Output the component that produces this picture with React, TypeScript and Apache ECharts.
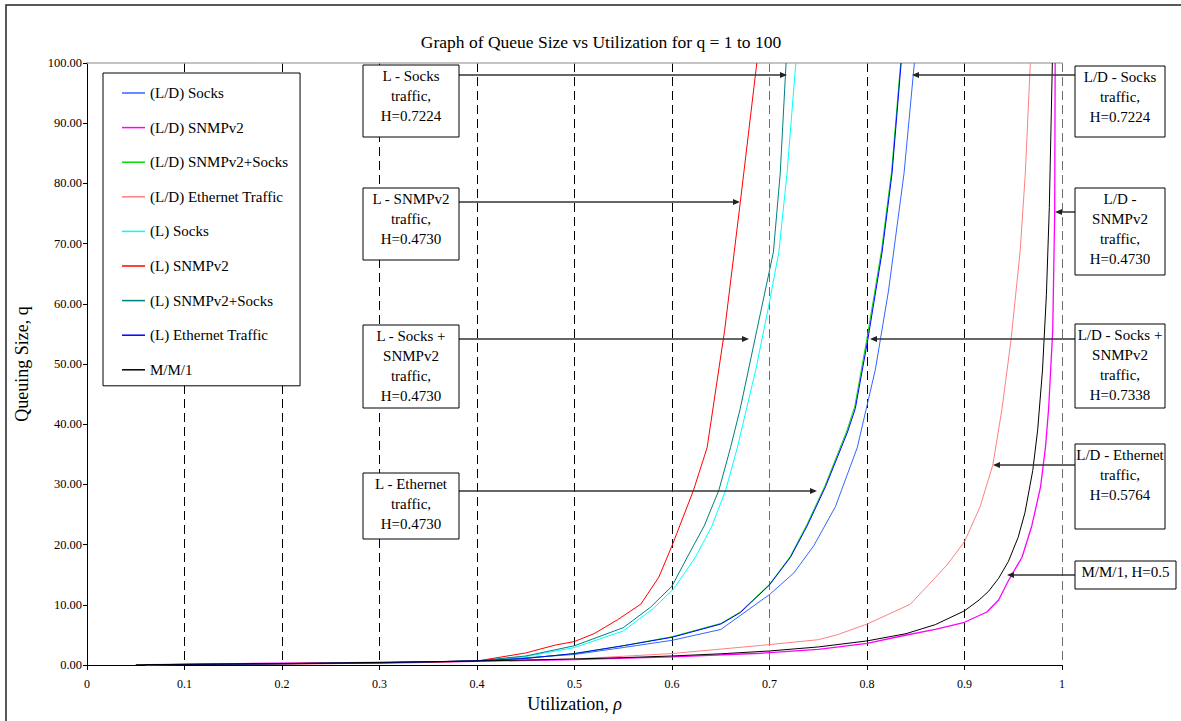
import React, { useEffect, useRef } from "react";
import * as echarts from "echarts";

const FONT = "'Liberation Serif', 'Times New Roman', serif";

// Tick labels
const xTickLabels = ["0", "0.1", "0.2", "0.3", "0.4", "0.5", "0.6", "0.7", "0.8", "0.9", "1"];

// Series names & colors
const seriesNames = [
  "(L/D) Socks",
  "(L/D) SNMPv2",
  "(L/D) SNMPv2+Socks",
  "(L/D) Ethernet Traffic",
  "(L) Socks",
  "(L) SNMPv2",
  "(L) SNMPv2+Socks",
  "(L) Ethernet Traffic",
  "M/M/1",
];
const seriesColors = ["#3366FF", "#FF00FF", "#00E000", "#FF8080", "#00FFFF", "#FF0000", "#008080", "#0000FF", "#000000"];

// [utilization, queue size]
const ldSocks = [[0.06, 0.05], [0.1, 0.1], [0.2, 0.22], [0.3, 0.36], [0.4, 0.65], [0.5, 1.75], [0.55, 2.9], [0.6, 4.1], [0.65, 5.9], [0.7, 11.7], [0.725, 15.3], [0.7454, 19.8], [0.7676, 26.3], [0.79, 36.1], [0.8086, 49.1], [0.822, 62.1], [0.838, 81.7], [0.8486, 100]];
const ldSnmp = [[0.06, 0.05], [0.1, 0.12], [0.2, 0.3], [0.3, 0.45], [0.35, 0.5], [0.4, 0.62], [0.5, 0.9], [0.6, 1.35], [0.691, 1.95], [0.75, 2.6], [0.8, 3.6], [0.838, 4.9], [0.87, 5.9], [0.9, 7.1], [0.923, 8.8], [0.935, 10.8], [0.945, 14], [0.959, 17.9], [0.969, 23.1], [0.978, 29.6], [0.983, 36.1], [0.9863, 42.6], [0.9905, 55.6], [0.9925, 75], [0.993, 100]];
const ldSnmpSocks = [[0.06, 0.05], [0.1, 0.1], [0.2, 0.22], [0.3, 0.38], [0.4, 0.68], [0.45, 1.1], [0.5, 1.9], [0.55, 3.2], [0.6, 4.7], [0.65, 6.9], [0.67, 8.8], [0.7, 13.4], [0.7212, 18.0], [0.7383, 23.3], [0.757, 29.8], [0.7795, 39], [0.7875, 43], [0.8, 54.3], [0.815, 69], [0.8252, 82], [0.8345, 100]];
const ldEthernet = [[0.06, 0.05], [0.1, 0.1], [0.2, 0.25], [0.3, 0.4], [0.4, 0.68], [0.5, 1.0], [0.6, 1.9], [0.691, 3.25], [0.75, 4.2], [0.769, 5.0], [0.8, 6.8], [0.8445, 10.1], [0.882, 16.6], [0.9, 20.5], [0.916, 26.3], [0.929, 33.2], [0.9385, 42.6], [0.9477, 54], [0.957, 68.6], [0.9624, 81.7], [0.9675, 100]];
const lSocks = [[0.06, 0.04], [0.1, 0.08], [0.2, 0.2], [0.3, 0.35], [0.4, 0.66], [0.45, 1.4], [0.5, 2.9], [0.55, 5.65], [0.581, 9.4], [0.602, 12.7], [0.624, 17.9], [0.641, 23.1], [0.655, 29], [0.667, 36.1], [0.686, 49.1], [0.699, 59.5], [0.7096, 68.6], [0.718, 81.7], [0.727, 100]];
const lSnmp = [[0.06, 0.03], [0.1, 0.06], [0.2, 0.15], [0.3, 0.3], [0.35, 0.42], [0.4, 0.66], [0.45, 2.0], [0.48, 3.3], [0.5, 3.9], [0.52, 5.2], [0.544, 7.5], [0.568, 10.1], [0.5865, 14.6], [0.6, 19.8], [0.622, 29], [0.636, 36.1], [0.654, 55.6], [0.67, 76.8], [0.687, 100]];
const lSnmpSocks = [[0.06, 0.04], [0.1, 0.08], [0.2, 0.2], [0.3, 0.36], [0.4, 0.68], [0.45, 1.5], [0.5, 3.2], [0.55, 6.2], [0.578, 9.6], [0.6, 13.1], [0.6156, 17.9], [0.633, 23.1], [0.648, 29], [0.66, 36.1], [0.67, 42.6], [0.687, 55.6], [0.704, 68.6], [0.711, 81.7], [0.717, 100]];
const lEthernet = [[0.06, 0.05], [0.1, 0.1], [0.2, 0.22], [0.3, 0.38], [0.4, 0.68], [0.45, 1.1], [0.5, 1.9], [0.55, 3.2], [0.6, 4.6], [0.65, 6.8], [0.67, 8.7], [0.7, 13.3], [0.7215, 17.9], [0.7386, 23.1], [0.7574, 29.6], [0.78, 38.7], [0.788, 42.6], [0.8008, 54], [0.8155, 68.6], [0.8257, 81.7], [0.835, 100]];
const mm1 = [[0.05, 0.05], [0.1, 0.11], [0.15, 0.18], [0.2, 0.25], [0.25, 0.33], [0.3, 0.43], [0.35, 0.54], [0.4, 0.67], [0.45, 0.82], [0.5, 1.0], [0.55, 1.22], [0.6, 1.5], [0.65, 1.86], [0.7, 2.33], [0.75, 3.0], [0.8, 4.0], [0.84, 5.2], [0.87, 6.7], [0.9, 9.0], [0.915, 10.8], [0.925, 12.3], [0.935, 14.4], [0.945, 17.2], [0.955, 21.2], [0.962, 25.3], [0.97, 32.3], [0.975, 39], [0.98, 49], [0.984, 61.5], [0.987, 76], [0.9901, 100]];

const seriesData = [ldSocks, ldSnmp, ldSnmpSocks, ldEthernet, lSocks, lSnmp, lSnmpSocks, lEthernet, mm1];

// Annotation texts
const annotationTexts = [
  ["L - Socks", "traffic,", "H=0.7224"],
  ["L - SNMPv2", "traffic,", "H=0.4730"],
  ["L - Socks +", "SNMPv2", "traffic,", "H=0.4730"],
  ["L - Ethernet", "traffic,", "H=0.4730"],
  ["L/D - Socks", "traffic,", "H=0.7224"],
  ["L/D -", "SNMPv2", "traffic,", "H=0.4730"],
  ["L/D - Socks +", "SNMPv2", "traffic,", "H=0.7338"],
  ["L/D - Ethernet", "traffic,", "H=0.5764"],
  ["M/M/1, H=0.5"],
];

// Annotation layout: box [x, y, w, h], arrow y, arrow tip x
const annotationLayout = [
  { box: [363, 65, 96, 72], ay: 75, tip: 787 },
  { box: [363, 188, 96, 72], ay: 202, tip: 740 },
  { box: [363, 325, 96, 83], ay: 339, tip: 749 },
  { box: [363, 473, 96, 66], ay: 491, tip: 817 },
  { box: [1075, 66, 90, 71], ay: 75, tip: 912 },
  { box: [1075, 188, 90, 87], ay: 212, tip: 1055 },
  { box: [1075, 324, 90, 84], ay: 339, tip: 870 },
  { box: [1075, 444, 90, 85], ay: 465, tip: 993 },
  { box: [1075, 561, 101, 28], ay: 575, tip: 1007 },
];

function buildGraphics() {
  const els: any[] = [];
  els.push({
    type: "rect",
    shape: { x: 6, y: 5, width: 1200, height: 760 },
    style: { fill: "none", stroke: "#222", lineWidth: 1.5 },
    z: 50,
  });
  annotationTexts.forEach((lines, i) => {
    const { box, ay, tip } = annotationLayout[i];
    const [x, y, w, h] = box;
    const right = tip > x;
    const start = right ? x + w : x;
    const d = right ? 1 : -1;
    els.push({
      type: "line",
      shape: { x1: start, y1: ay, x2: tip - 5 * d, y2: ay },
      style: { stroke: "#333", lineWidth: 1.5 },
      z: 100,
    });
    els.push({
      type: "polygon",
      shape: { points: [[tip, ay], [tip - 7 * d, ay - 3], [tip - 7 * d, ay + 3]] },
      style: { fill: "#222" },
      z: 100,
    });
    els.push({
      type: "rect",
      shape: { x, y, width: w, height: h },
      style: { fill: "#fff", stroke: "#000", lineWidth: 1 },
      z: 100,
    });
    els.push({
      type: "text",
      x: x + w / 2,
      y: y + 1,
      style: {
        text: lines.join("\n"),
        fill: "#000",
        fontSize: 15,
        fontFamily: FONT,
        align: "center",
        verticalAlign: "top",
        lineHeight: 20,
      },
      z: 101,
    });
  });
  return els;
}

export default function App() {
  const ref = useRef<HTMLDivElement>(null);
  useEffect(() => {
    if (!ref.current) return;
    const chart = echarts.init(ref.current, null, { renderer: "svg" });
    const splitColors = xTickLabels.map((_, i) => (i === 7 || i === 10 ? "#707070" : "#000"));
    chart.setOption({
      animation: false,
      backgroundColor: "#fff",
      textStyle: { fontFamily: FONT },
      title: {
        text: "Graph of Queue Size vs Utilization for q = 1 to 100",
        left: 596,
        textAlign: "center",
        top: 28,
        textStyle: { fontFamily: FONT, fontSize: 17.5, fontWeight: "normal", color: "#000" },
      },
      grid: { left: 87, right: 119, top: 63, bottom: 56, containLabel: false },
      legend: {
        orient: "vertical",
        left: 103,
        top: 73,
        itemGap: 18.6,
        icon: "rect",
        itemWidth: 23,
        itemHeight: 1.5,
        padding: [12, 12, 8, 19],
        borderColor: "#000",
        borderWidth: 1,
        backgroundColor: "#fff",
        selectedMode: false,
        textStyle: { fontFamily: FONT, fontSize: 15, lineHeight: 16, color: "#000" },
        data: seriesNames,
        z: 20,
      },
      xAxis: [
        {
          type: "value",
          min: 0,
          max: 1,
          interval: 0.1,
          position: "bottom",
          axisLine: { lineStyle: { color: "#000", width: 1 } },
          axisTick: { show: true, length: 5, lineStyle: { color: "#000" } },
          axisLabel: {
            margin: 13,
            fontFamily: FONT,
            fontSize: 12,
            color: "#000",
            formatter: (v: number) => xTickLabels[Math.round(v * 10)],
          },
          splitLine: {
            show: true,
            lineStyle: { color: splitColors, type: [9, 5], width: 1 },
          },
          name: "Utilization, {i|ρ}",
          nameLocation: "middle",
          nameGap: 30,
          nameTextStyle: {
            fontFamily: FONT,
            fontSize: 18,
            color: "#000",
            rich: { i: { fontStyle: "italic", fontFamily: FONT, fontSize: 18, color: "#000" } },
          },
        },
        {
          type: "value",
          min: 0,
          max: 1,
          position: "top",
          axisLine: { show: true, lineStyle: { color: "#b0b0b0", width: 1.5 } },
          axisTick: { show: false },
          axisLabel: { show: false },
          splitLine: { show: false },
        },
      ],
      yAxis: {
        type: "value",
        min: 0,
        max: 100,
        interval: 10,
        axisLine: { show: true, lineStyle: { color: "#000", width: 1 } },
        axisTick: { show: true, length: 4, lineStyle: { color: "#000" } },
        axisLabel: {
          margin: 5,
          fontFamily: FONT,
          fontSize: 12.5,
          color: "#000",
          formatter: (v: number) => v.toFixed(2),
        },
        splitLine: { show: false },
        name: "Queuing Size, q",
        nameLocation: "middle",
        nameGap: 56,
        nameTextStyle: { fontFamily: FONT, fontSize: 18, color: "#000" },
      },
      series: seriesNames.map((name, i) => ({
        name,
        type: "line",
        data: seriesData[i],
        symbol: "none",
        showSymbol: false,
        smooth: false,
        clip: true,
        color: seriesColors[i],
        lineStyle: { color: seriesColors[i], width: i === 1 ? 1.3 : 1 },
      })),
      graphic: buildGraphics(),
    });
    return () => chart.dispose();
  }, []);
  return (
    <div
      ref={ref}
      style={{ position: "fixed", left: 0, top: 0, width: 1181, height: 721, background: "#fff" }}
    />
  );
}
